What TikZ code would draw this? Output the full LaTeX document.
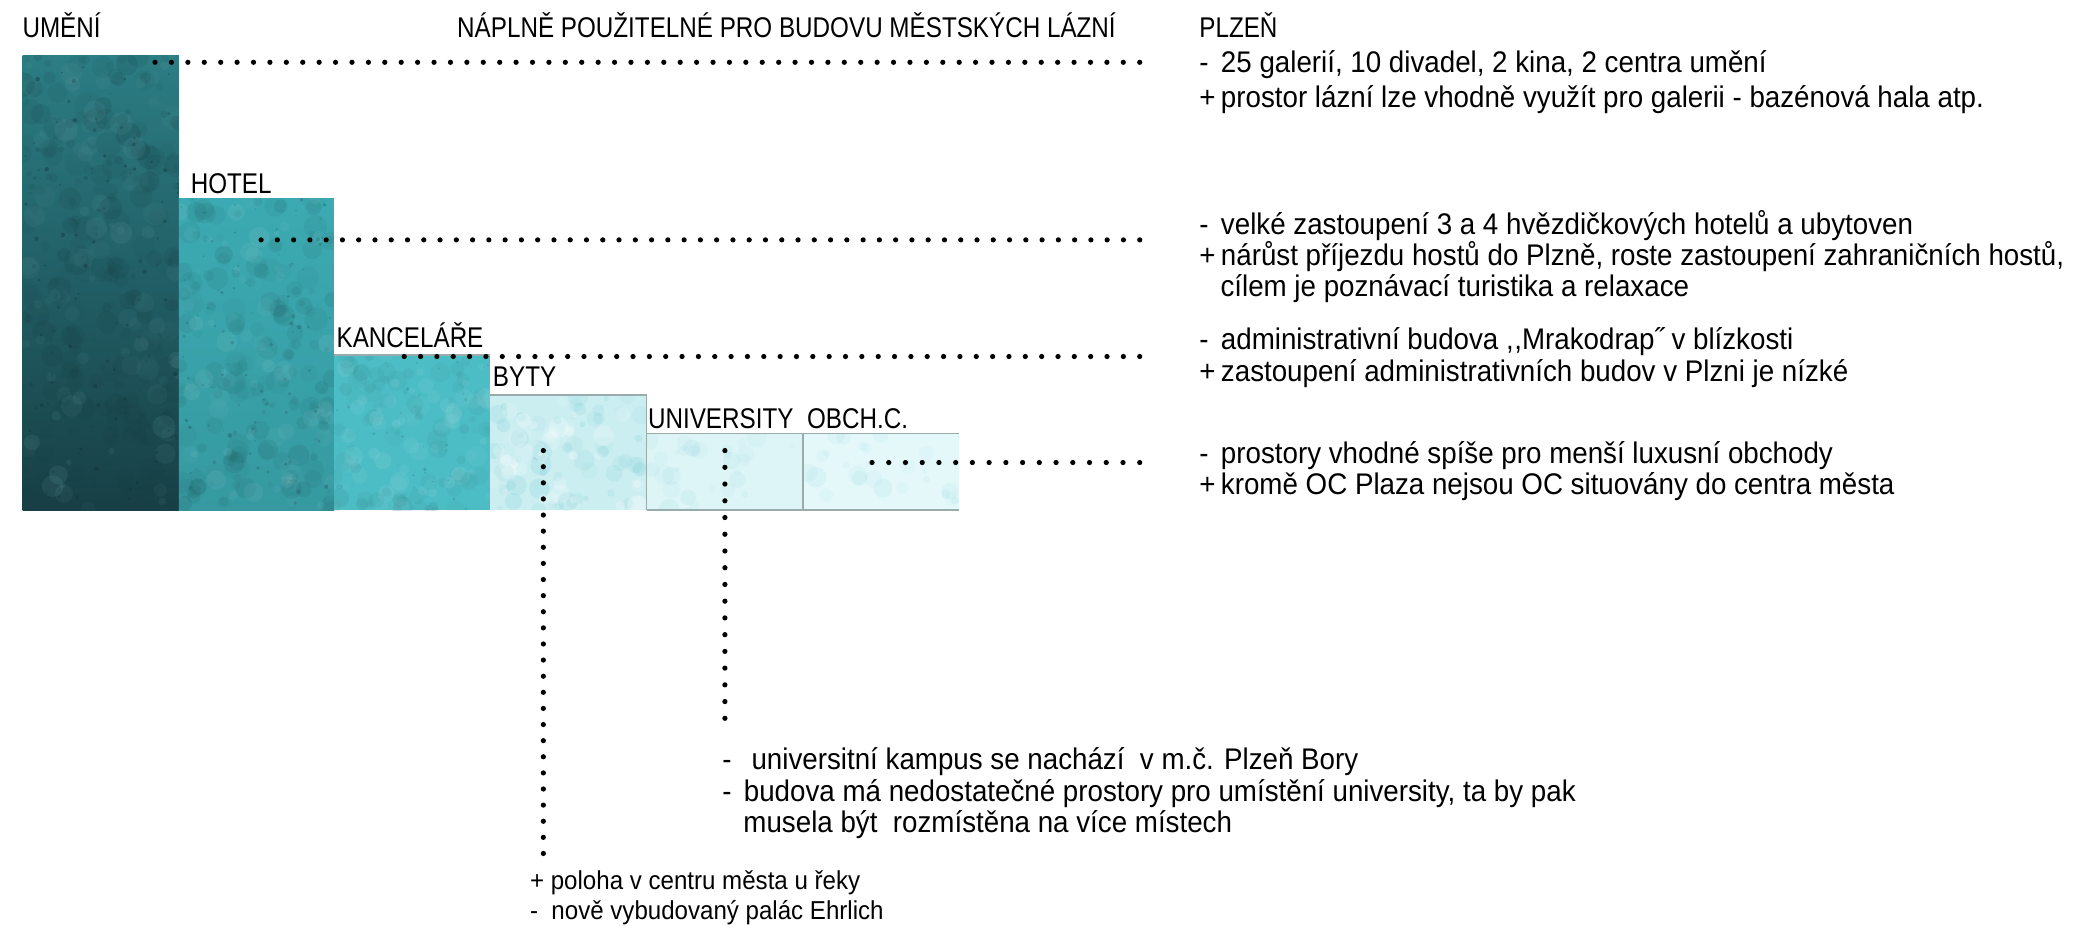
\documentclass[tikz,border=0pt]{standalone}
\usepackage{fontspec}
\usetikzlibrary{calc}
\setmainfont[FakeStretch=0.85]{Liberation Sans}
\newfontfamily\txtfont[FakeStretch=0.93]{Liberation Sans}
\definecolor{cU}{HTML}{2C7D84}
\definecolor{cUd}{HTML}{173F45}
\definecolor{cH}{HTML}{3CAAB2}
\definecolor{cK}{HTML}{4DBDC5}
\definecolor{cB}{HTML}{CBEEF1}
\definecolor{cV}{HTML}{DDF5F7}
\definecolor{cO}{HTML}{E4F8FA}
\definecolor{edge}{HTML}{9AABAC}
\newcommand\mk[1]{\makebox[11.6pt][l]{#1}}
% count, w, h, colour, min radius, radius span, min opacity, opacity span
\newcommand\texture[8]{%
  \foreach \i in {1,...,#1}{%
    \pgfmathsetmacro\rx{rnd*#2}\pgfmathsetmacro\ry{rnd*#3}%
    \pgfmathsetmacro\rr{#5+rnd*#6}\pgfmathsetmacro\ro{#7+rnd*#8}%
    \fill[#4,opacity=\ro] ([shift={(\rx,\ry)}]path picture bounding box.north west) circle (\rr);
  }}
\begin{document}
\begin{tikzpicture}[x=0.025cm,y=-0.025cm,
  lbl/.style={anchor=base west, inner sep=0pt, outer sep=0pt, font=\fontsize{15.3}{18}\selectfont},
  txt/.style={anchor=base west, inner sep=0pt, outer sep=0pt, font=\txtfont\fontsize{16}{17}\selectfont},
  smalltxt/.style={anchor=base west, inner sep=0pt, outer sep=0pt, font=\txtfont\fontsize{13.9}{16}\selectfont},
  bar/.style={anchor=north west, inner sep=0pt, outer sep=0pt, draw=none, minimum width=118*0.025cm},
  dotfill/.style={fill=black},
  edgeline/.style={draw=edge, line width=0.8pt}]
\pgfmathsetseed{11}
\useasboundingbox (0,0) rectangle (1568,700);

% bars
\node[bar, minimum height=343*0.025cm, top color=cU, bottom color=cUd,
  path picture={\texture{220}{118}{343}{cUd}{2}{8}{0.05}{0.14}%
                \texture{90}{118}{343}{cU!70!white}{2}{7}{0.04}{0.10}%
                \texture{120}{118}{343}{cUd!70!black}{0.5}{1.2}{0.15}{0.25}}] (bU) at (17,42) {};
\node[bar, minimum width=117*0.025cm, minimum height=235*0.025cm, top color=cH, bottom color=cH!90!black,
  path picture={\texture{160}{117}{235}{cH!55!black}{2}{7}{0.04}{0.12}%
                \texture{70}{117}{235}{cH!50!white}{2}{6}{0.04}{0.09}%
                \texture{90}{117}{235}{cH!40!black}{0.5}{1.2}{0.12}{0.22}}] (bH) at (135,150) {};
\node[bar, minimum height=117*0.025cm, fill=cK,
  path picture={\texture{80}{118}{117}{cK!60!black}{2}{6}{0.04}{0.10}%
                \texture{60}{118}{117}{cK!50!white}{2}{6}{0.05}{0.10}%
                \texture{40}{118}{117}{cK!50!black}{0.5}{1}{0.1}{0.2}}] (bK) at (252,268) {};
\node[bar, minimum height=87*0.025cm, fill=cB,
  path picture={\texture{60}{118}{87}{cK}{2}{6}{0.04}{0.10}\texture{40}{118}{87}{white}{2}{6}{0.1}{0.2}}] (bB) at (370,298) {};
\node[bar, minimum height=58*0.025cm, fill=cV,
  path picture={\texture{30}{118}{58}{cK}{2}{6}{0.03}{0.06}}] (bV) at (488,327) {};
\node[bar, minimum height=58*0.025cm, fill=cO,
  path picture={\texture{25}{118}{58}{cK}{2}{6}{0.03}{0.05}}] (bO) at (606,327) {};
\draw[edgeline] (bK.north west) -- (bK.north east);
\draw[edgeline] (bB.south east) -- (bB.north east) -- (bB.north west);
\draw[edgeline] (bV.north west) -- (bO.north east);
\draw[edgeline] (bV.north east) -- (bV.south east);
\draw[edgeline] (bV.south west) -- (bO.south east);

% labels
\node[lbl] (lU) at (17,28) {UMĚNÍ};
\node[lbl] (title) at (345,28) {NÁPLNĚ POUŽITELNÉ PRO BUDOVU MĚSTSKÝCH LÁZNÍ};
\node[lbl] (plzen) at (905,28) {PLZEŇ};
\node[lbl] (lH) at (144,146) {HOTEL};
\node[lbl] (lK) at (254,262) {KANCELÁŘE};
\node[lbl] (lB) at (372,292) {BYTY};
\node[lbl] (lV) at (489,323) {UNIVERSITY};
\node[lbl] (lO) at (609,323) {OBCH.C.};

% right texts
\node[txt] (t1a) at (905,55) {\mk{-}25 galerií, 10 divadel, 2 kina, 2 centra umění};
\node[txt] (t1b) at (905,81) {\mk{+}prostor lázní lze vhodně využít pro galerii - bazénová hala atp.};
\node[txt] (t2a) at (905,177) {\mk{-}velké zastoupení 3 a 4 hvězdičkových hotelů a ubytoven};
\node[txt] (t2b) at (905,200.5) {\mk{+}nárůst příjezdu hostů do Plzně, roste zastoupení zahraničních hostů,};
\node[txt] (t2c) at (921,224) {cílem je poznávací turistika a relaxace};
\node[txt] (t3a) at (905,264) {\mk{-}administrativní budova ,\kern0.3pt,Mrakodrap˝ v blízkosti};
\node[txt] (t3b) at (905,287.5) {\mk{+}zastoupení administrativních budov v Plzni je nízké};
\node[txt] (t4a) at (905,349.5) {\mk{-}prostory vhodné spíše pro menší luxusní obchody};
\node[txt] (t4b) at (905,373) {\mk{+}kromě OC Plaza nejsou OC situovány do centra města};
\node[txt] (tVa) at (545,581) {\mk{-}\ universitní kampus se nachází\ \ v m.č. Plzeň Bory};
\node[txt] (tVb) at (545,604.5) {\mk{-}budova má nedostatečné prostory pro umístění university, ta by pak};
\node[txt] (tVc) at (561,628) {musela být\ \ rozmístěna na více místech};
\node[smalltxt] (tBa) at (400,671) {+ poloha v centru města u řeky};
\node[smalltxt] (tBb) at (400,694) {-\ \ nově vybudovaný palác Ehrlich};

% dotted connectors (evenly spaced dots from start to end)
\coordinate (dU1) at (117,47);  \coordinate (dU2) at (860,47);
\coordinate (dH1) at (197,181); \coordinate (dH2) at (860,181);
\coordinate (dK1) at (305,269); \coordinate (dK2) at (860,269);
\coordinate (dO1) at (658,349); \coordinate (dO2) at (860,349);
\coordinate (dB1) at (410,340); \coordinate (dB2) at (410,644);
\coordinate (dV1) at (547,340); \coordinate (dV2) at (547,542);
\foreach \a/\b/\n in {dU1/dU2/60, dH1/dH2/54, dK1/dK2/45, dO1/dO2/16, dB1/dB2/25, dV1/dV2/16}{
  \foreach \k in {0,...,\n}{
    \fill[dotfill] ($(\a)!{\k/\n}!(\b)$) circle (1.4pt);
  }
}
\end{tikzpicture}
\end{document}
